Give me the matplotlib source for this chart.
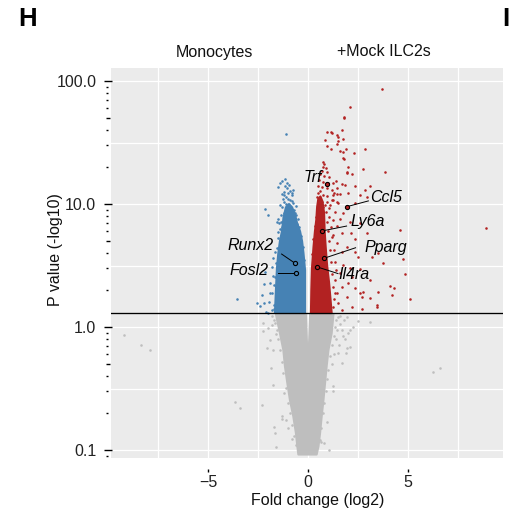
import numpy as np
import matplotlib
matplotlib.use("Agg")
import matplotlib.pyplot as plt
from matplotlib.patches import Polygon
import matplotlib.transforms as mtransforms

plt.rcParams["font.family"] = ["Liberation Sans", "DejaVu Sans"]

# ---- data: log2 fold change, -log10 P value --------------------------------
P_CUTOFF = 1.301  # -log10(0.05)

# densely packed cores of each group (outline of the crowded region)
ns_core = [(-1.6, 1.27), (-1.4, 0.89), (-1.23, 0.65), (-1.15, 0.48), (-1.03, 0.35),
           (-0.9, 0.255), (-0.73, 0.187), (-0.6, 0.137), (-0.53, 0.107), (-0.48, 0.092),
           (0.43, 0.092), (0.52, 0.107), (0.6, 0.137), (0.68, 0.187), (0.77, 0.255),
           (0.85, 0.35), (0.93, 0.48), (1.02, 0.65), (1.18, 0.89), (1.27, 1.27),
           (0.11, 1.27), (0.05, 0.7), (0.015, 0.34), (-0.015, 0.34), (-0.05, 0.7),
           (-0.11, 1.27)]
down_core = [(-0.15, 1.30), (-0.15, 2.9), (-0.23, 4.0), (-0.3, 5.0), (-0.4, 6.0),
             (-0.55, 7.0), (-0.65, 8.2), (-0.8, 9.4), (-0.95, 10.0), (-1.1, 9.4),
             (-1.22, 7.8), (-1.3, 6.0), (-1.4, 5.0), (-1.48, 4.0), (-1.55, 3.0),
             (-1.6, 2.0), (-1.65, 1.30)]
up_core = [(0.15, 1.30), (0.17, 2.0), (0.2, 3.0), (0.28, 4.5), (0.35, 6.0),
           (0.42, 7.5), (0.46, 9.5), (0.52, 11.0), (0.62, 11.5), (0.72, 10.5),
           (0.8, 8.5), (0.83, 6.0), (0.88, 4.5), (0.95, 3.2), (1.05, 2.3),
           (1.12, 1.7), (1.18, 1.30)]

# individual genes outside the crowded cores
ns_points = [(-9.2, 0.86), (-8.35, 0.72), (-7.9, 0.65), (-3.65, 0.247), (-3.4, 0.218),
             (-2.27, 1.07), (-2.23, 0.93), (-1.98, 0.98), (-1.82, 1.04), (-1.9, 0.78),
             (-2.07, 0.68), (-1.73, 0.65), (-1.87, 0.46), (-1.73, 0.34), (-1.18, 0.29),
             (-2.32, 0.232), (-1.32, 0.19), (-1.28, 0.178), (-1.12, 0.176), (-1.7, 0.153),
             (-1.65, 0.138), (-0.82, 0.122), (-1.6, 0.105), (-0.98, 0.15),
             (6.27, 0.428), (6.6, 0.467), (3.1, 1.09), (2.52, 1.12), (2.27, 1.0),
             (2.1, 0.945), (2.02, 0.89), (1.77, 0.845), (2.1, 0.69), (1.93, 0.67),
             (1.88, 0.62), (1.68, 0.51), (1.27, 0.33), (1.27, 0.30), (0.97, 0.17),
             (0.8, 0.113), (1.07, 0.1), (0.65, 0.117), (1.5, 1.2), (1.6, 1.05),
             (1.45, 0.95), (1.4, 0.8), (1.55, 0.72), (1.3, 0.6), (1.2, 0.5),
             (-1.7, 1.15), (-1.55, 0.95), (-1.5, 0.8), (-1.42, 0.65), (-1.3, 0.52),
             (-1.25, 0.42), (-1.12, 0.32), (-1.0, 0.24), (-0.9, 0.2), (-0.8, 0.16),
             (-0.7, 0.13), (-0.62, 0.11), (-1.78, 1.22), (-1.65, 1.08), (-1.6, 0.88),
             (1.4, 1.15), (1.35, 1.0), (1.3, 0.85), (1.2, 0.72), (1.1, 0.58),
             (1.0, 0.45), (0.95, 0.38), (0.9, 0.3), (0.8, 0.24), (0.75, 0.2),
             (0.65, 0.15), (0.6, 0.12), (1.62, 1.22), (1.8, 1.15), (1.95, 1.2),
             (1.7, 0.95), (1.85, 0.8), (1.5, 0.62)]
down_points = [(-1.1, 37.0), (-1.4, 14.8), (-1.28, 15.4), (-1.15, 16.0), (-1.03, 14.9),
               (-1.48, 13.7), (-1.13, 14.1), (-0.97, 14.2), (-0.73, 13.0), (-2.15, 9.1),
               (-1.98, 8.1), (-1.48, 7.5), (-1.57, 7.2), (-3.53, 1.69), (-2.55, 1.58),
               (-2.38, 1.49), (-2.2, 1.58), (-1.97, 1.6), (-2.22, 2.22), (-1.9, 2.27),
               (-1.65, 2.56), (-1.57, 2.73), (-2.12, 1.33), (-2.0, 1.31), (-1.82, 1.37),
               (-2.15, 2.82), (-1.82, 3.09), (-1.73, 3.62), (-1.65, 4.1), (-1.9, 1.88),
               (-2.28, 1.82),
               (-1.18, 12.6), (-0.98, 12.2), (-0.82, 11.8), (-1.1, 11.3), (-0.9, 10.8),
               (-1.18, 10.3), (-0.73, 10.1), (-1.02, 9.6), (-1.28, 9.4), (-0.85, 9.1),
               (-1.12, 8.7), (-0.65, 8.5), (-1.35, 8.1), (-0.95, 8.0), (-1.18, 7.65),
               (-0.77, 7.5), (-1.45, 7.05), (-1.02, 6.97), (-0.57, 6.88), (-1.28, 6.46),
               (-0.85, 6.34), (-1.48, 5.96), (-1.07, 5.85), (-0.65, 5.78),
               (-0.2, 3.5), (-0.25, 4.5), (-0.35, 5.5), (-0.45, 6.5), (-0.5, 7.5),
               (-0.6, 8.2), (-0.7, 9.0), (-1.7, 1.5), (-1.68, 2.2), (-1.62, 3.3),
               (-1.55, 4.4), (-1.5, 5.3), (-1.4, 6.3), (-1.35, 7.2), (-0.85, 8.5),
               (-1.05, 8.8), (-1.2, 8.4), (-0.95, 9.5), (-1.1, 10.0), (-0.8, 10.5),
               (-1.0, 11.0), (-1.2, 11.8), (-0.9, 12.8), (-1.05, 13.5), (-1.3, 12.0),
               (-0.78, 12.4), (-1.25, 10.9), (-1.4, 9.9), (-0.6, 9.6), (-1.78, 1.9),
               (-1.75, 2.6), (-1.72, 1.4)]
up_points = [(3.68, 86.0), (2.12, 61.6), (1.78, 51.4), (1.78, 50.0), (0.95, 38.7),
             (1.15, 38.7), (1.22, 37.5), (1.70, 39.7), (1.45, 36.6), (1.52, 35.2),
             (0.83, 33.3), (1.75, 33.5), (1.52, 32.5), (1.45, 30.6), (0.95, 29.4),
             (1.13, 28.0), (1.9, 28.1), (1.6, 27.0), (1.73, 26.4), (2.3, 25.8),
             (2.83, 27.8), (1.8, 23.2), (1.77, 23.5), (2.02, 20.1), (1.93, 18.3),
             (2.77, 19.3), (2.85, 13.1), (2.93, 5.77), (3.18, 3.73), (3.52, 1.94),
             (3.47, 1.46), (4.77, 3.57), (5.1, 1.69), (8.88, 6.41), (2.6, 1.88),
             (2.68, 1.76),
             (1.93, 17.9), (2.22, 17.5), (3.85, 18.2), (1.38, 15.5), (1.72, 14.5),
             (1.85, 14.2), (2.35, 14.1), (3.1, 14.1), (1.32, 12.2), (1.6, 12.0),
             (2.02, 12.4), (2.6, 11.8), (2.93, 11.4), (1.27, 10.8), (1.52, 10.1),
             (2.35, 10.1), (1.35, 8.67), (1.77, 8.4), (1.6, 7.6), (1.27, 7.4),
             (2.1, 7.2), (1.43, 6.6), (2.6, 6.95), (4.6, 6.16), (1.68, 5.77),
             (1.27, 5.58), (2.15, 5.77), (2.35, 5.16), (1.43, 4.79), (1.93, 4.49),
             (1.32, 4.23), (1.68, 4.1), (2.35, 4.1), (2.52, 3.68), (3.52, 3.97),
             (3.73, 3.33), (1.35, 3.4), (1.77, 3.19), (2.1, 3.0), (2.6, 2.95),
             (1.6, 2.73), (2.18, 2.56), (1.35, 2.41), (2.02, 2.27), (3.1, 2.41),
             (4.85, 2.68), (1.68, 2.13), (2.35, 2.06), (2.77, 1.94), (4.1, 2.15),
             (4.32, 2.06), (1.43, 1.88), (1.93, 1.76), (3.1, 1.71), (3.43, 1.51),
             (4.18, 1.82), (1.52, 1.56), (2.18, 1.46), (2.68, 1.39), (1.68, 1.37),
             (1.27, 1.46),
             (0.77, 22.1), (0.82, 21.0), (0.73, 20.1), (0.88, 19.5), (0.68, 18.5),
             (0.93, 18.3), (0.60, 17.5), (0.82, 16.9), (1.05, 16.7), (0.55, 15.7),
             (0.77, 15.2), (1.02, 14.9), (1.27, 14.7), (0.52, 14.0), (0.68, 13.7),
             (0.93, 13.4), (1.18, 13.0), (1.43, 13.4), (0.52, 12.2), (0.73, 11.8),
             (0.97, 11.6), (1.23, 11.8), (1.43, 12.1), (0.48, 10.8), (0.68, 10.4),
             (0.93, 10.3), (1.18, 10.8), (1.43, 10.4), (0.52, 9.5), (0.77, 9.4),
             (1.07, 9.2),
             (0.9, 8.6), (0.95, 7.2), (1.0, 6.0), (1.05, 5.0), (1.1, 4.2), (1.15, 3.4),
             (1.2, 2.7), (1.25, 2.1), (1.3, 1.7), (1.05, 7.8), (1.15, 6.5), (1.2, 5.4),
             (0.38, 7.9), (0.33, 6.6), (0.27, 5.2), (0.22, 3.9), (0.85, 9.8),
             (0.62, 12.8), (0.45, 11.5), (1.35, 1.9), (1.4, 2.9), (1.1, 9.8)]

# highlighted genes: name, fold change, p value, label position, label side
gene_names = ["Trf", "Ccl5", "Ly6a", "Pparg", "Il4ra", "Runx2", "Fosl2"]
gene_fc = [0.97, 1.93, 0.68, 0.80, 0.43, -0.65, -0.60]
gene_p = [14.5, 9.5, 6.03, 3.62, 3.09, 3.30, 2.76]
gene_group = ["up", "up", "up", "up", "up", "down", "down"]
label_xy = [(0.68, 16.5), (3.1, 11.3), (2.15, 7.18), (2.82, 4.44), (1.52, 2.65),
            (-1.74, 4.58), (-1.95, 2.9)]
label_ha = ["right", "left", "left", "left", "left", "right", "right"]
leader_end = [None, (3.02, 10.6), (1.93, 6.62), (2.38, 4.41), (1.5, 2.72),
              (-1.32, 3.92), (-1.52, 2.76)]

COLORS = {"ns": "#BEBEBE", "down": "#4682B4", "up": "#B22222"}

# ---- figure ---------------------------------------------------------------
W, H = 510, 518
fig = plt.figure(figsize=(W / 100, H / 100), dpi=100)
L, R, T, B = 111, 503, 68, 458
ax = fig.add_axes([L / W, 1 - B / H, (R - L) / W, (B - T) / H])
ax.set_facecolor("#EBEBEB")
for sp in ax.spines.values():
    sp.set_visible(False)
ax.set_yscale("log")
ax.set_xlim(-9.85, 9.75)
ax.set_ylim(0.0861, 127.6)

for gx in [-7.5, -5, -2.5, 0, 2.5, 5, 7.5]:
    ax.axvline(gx, color="white", lw=0.9, zorder=0.5)
for gy in [0.1, 10 ** -0.5, 1, 10 ** 0.5, 10, 10 ** 1.5, 100]:
    ax.axhline(gy, color="white", lw=0.9, zorder=0.5)

# crowded cores
for core, key in [(ns_core, "ns"), (down_core, "down"), (up_core, "up")]:
    ax.add_patch(Polygon(core, closed=True, facecolor=COLORS[key],
                         edgecolor=COLORS[key], lw=1.6, joinstyle="round", zorder=2))

# individual genes
for pts, key in [(ns_points, "ns"), (down_points, "down"), (up_points, "up")]:
    a = np.array(pts)
    ax.scatter(a[:, 0], a[:, 1], s=3.4, color=COLORS[key], lw=0, zorder=3)

ax.axhline(P_CUTOFF, color="black", lw=0.95, zorder=4)

# highlighted genes
for name, fx, py, grp, (tx, ty), ha, end in zip(gene_names, gene_fc, gene_p, gene_group,
                                                label_xy, label_ha, leader_end):
    if end is not None:
        ax.plot([fx, end[0]], [py, end[1]], color="black", lw=0.7, zorder=5)
    ax.scatter([fx], [py], s=9, facecolor=COLORS[grp], edgecolor="black",
               lw=0.8, zorder=6)
    ax.text(tx, ty, name, ha=ha, va="center", fontsize=11.5, style="italic",
            zorder=7)

# axis ticks and labels
ax.set_xticks([-5, 0, 5])
ax.set_xticklabels(["\u22125", "0", "5"], fontsize=11.5, color="#222222")
ax.tick_params(axis="x", length=0, pad=12.5)
ax.set_yticks([0.1, 1, 10, 100])
ax.set_yticklabels(["0.1", "1.0", "10.0", "100.0"], fontsize=11.5, color="#222222")
ax.tick_params(axis="y", length=0, pad=10.6)
ax.yaxis.set_minor_locator(matplotlib.ticker.NullLocator())

# log tick marks on the left
ytrans = mtransforms.blended_transform_factory(ax.transAxes, ax.transData)
pw, ph = R - L, B - T
major_y = [0.1, 1, 10, 100]
mid_y = [0.5, 5, 50]
short_y = [0.09] + [m * d for d in [0.1, 1, 10] for m in [2, 3, 4, 6, 7, 8, 9]]
for vals, x0, x1 in [(major_y, -7, 1), (mid_y, -5, -0.5), (short_y, -5, -2.5)]:
    for v in vals:
        ax.plot([x0 / pw, x1 / pw], [v, v], transform=ytrans, color="black",
                lw=1.0, clip_on=False, solid_capstyle="butt")
xtrans = mtransforms.blended_transform_factory(ax.transData, ax.transAxes)
for v in [-5, 0, 5]:
    ax.plot([v, v], [-11 / ph, -13.5 / ph], transform=xtrans, color="black",
            lw=1.0, clip_on=False, solid_capstyle="butt")

fig.text(56 / W, 1 - 250 / H, "P value (-log10)", rotation=90, ha="center",
         va="center", fontsize=11.5, color="#111111")
fig.text(318 / W, 1 - 501 / H, "Fold change (log2)", ha="center", va="center",
         fontsize=11.5, color="#111111")
fig.text(214 / W, 1 - 52 / H, "Monocytes", ha="center", va="center", fontsize=11.5,
         color="#111111")
fig.text(384 / W, 1 - 52 / H, "+Mock ILC2s", ha="center", va="center",
         fontsize=11.5, color="#111111")
fig.text(18 / W, 1 - 7 / H, "H", ha="left", va="top", fontsize=18.5,
         fontweight="bold")
fig.text(502 / W, 1 - 7 / H, "I", ha="left", va="top", fontsize=18.5,
         fontweight="bold")

fig.savefig("out.png", dpi=100)
